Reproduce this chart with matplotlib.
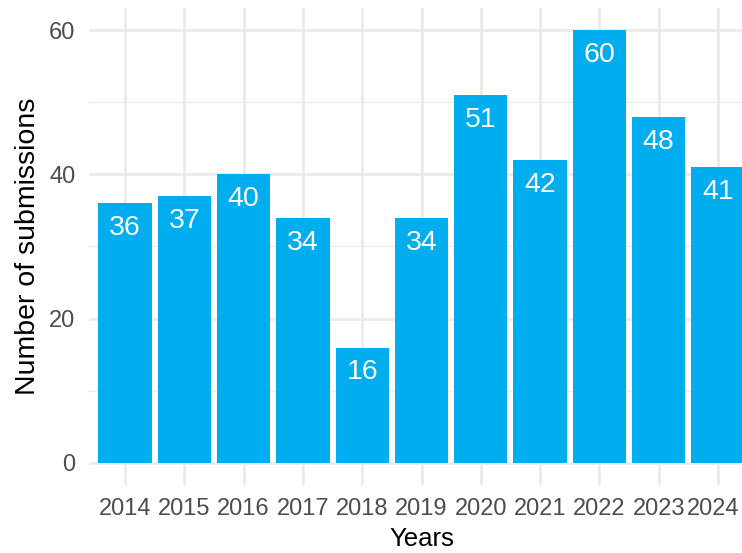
import matplotlib
matplotlib.use("Agg")
import matplotlib.pyplot as plt
import matplotlib.transforms as mtransforms
from matplotlib.ticker import MultipleLocator

plt.rcParams['font.family'] = ['Liberation Sans', 'DejaVu Sans']

years = [2014, 2015, 2016, 2017, 2018, 2019, 2020, 2021, 2022, 2023, 2024]
submissions = [36, 37, 40, 34, 16, 34, 51, 42, 60, 48, 41]

bar_color = '#00AEEF'
grid_color = '#EBEBEB'
text_color = '#4D4D4D'

fig = plt.figure(figsize=(7.42, 5.53), dpi=100)
# panel runs past the right edge a little, like the saved figure
ax = fig.add_axes([89.4 / 742, 1 - 484.6 / 553, 664.2 / 742, 476.2 / 553])

pos = list(range(len(years)))
ax.bar(pos, submissions, width=0.9, color=bar_color, zorder=2)

# value labels sit inside the top of each bar
for x, v in zip(pos, submissions):
    ax.annotate(str(v), (x, v), xytext=(0, -23), textcoords='offset points',
                ha='center', va='baseline', color='white', fontsize=20.5, zorder=3)

ax.set_xlim(-0.6, len(years) - 0.4)
ax.set_ylim(-3, 63)
ax.yaxis.set_major_locator(MultipleLocator(20))
ax.yaxis.set_minor_locator(MultipleLocator(10))
ax.set_xticks(pos)
ax.set_xticklabels([str(y) for y in years])

ax.grid(which='major', color=grid_color, linewidth=2.0, zorder=0)
ax.grid(which='minor', axis='y', color=grid_color, linewidth=1.0, zorder=0)
ax.set_axisbelow(True)
for s in ax.spines.values():
    s.set_visible(False)
ax.tick_params(which='both', length=0, labelsize=17, labelcolor=text_color)
ax.tick_params(axis='x', pad=9.5)
ax.tick_params(axis='y', pad=10)

# keep the last year label inside the figure
last = ax.get_xticklabels()[-1]
last.set_transform(last.get_transform() +
                   mtransforms.ScaledTranslation(-4.5 / 100, 0, fig.dpi_scale_trans))

ax.set_xlabel('Years', fontsize=18.5, color='black', labelpad=5.5)
ax.set_ylabel('Number of submissions', fontsize=20.5, color='black', labelpad=6)

fig.savefig('out.png', dpi=100)
